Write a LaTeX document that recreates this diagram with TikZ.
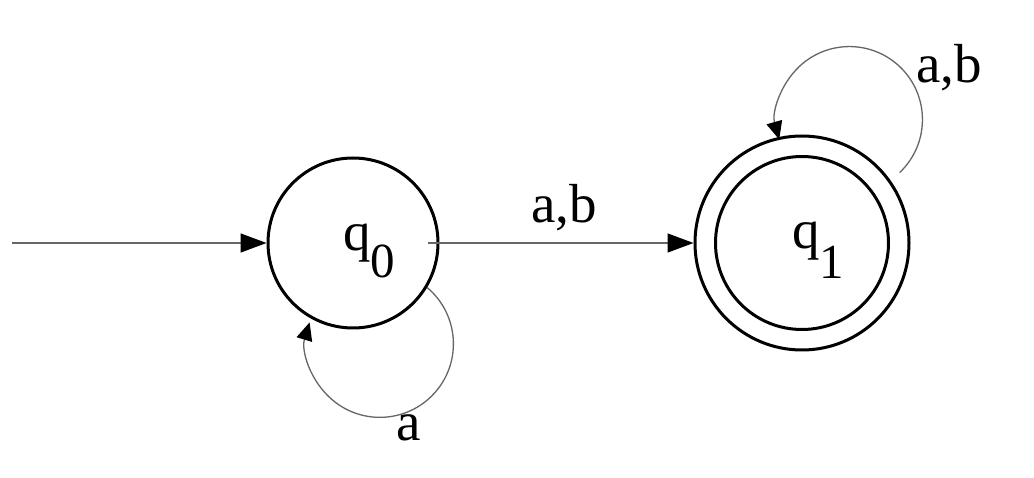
\documentclass[tikz,border=0pt]{standalone}
\usepackage{fontspec}
\setmainfont{Liberation Serif}
\usetikzlibrary{arrows.meta}
\begin{document}
\begin{tikzpicture}[x=1pt,y=1pt,
  state/.style={circle,draw=black,line width=3pt,inner sep=0pt},
  edge/.style={draw=black!60,line width=1.4pt,-{Triangle[length=26pt,width=19pt,color=black]}},
  loopedge/.style={draw=black!60,line width=1.3pt,-{Triangle[length=18pt,width=16pt,color=black]}},
  lbl/.style={inner sep=0pt,anchor=base west,font=\fontsize{55}{55}\selectfont}]
\useasboundingbox (0,0) rectangle (1034,477);
\fill[white] (0,0) rectangle (1034,477);
% states
\node[state,minimum size=170pt] (q0) at (353,234) {};
\node[state,minimum size=214pt] (q1) at (802,234) {};
\node[state,minimum size=173pt] (q1in) at (802,234) {};
\node[lbl] (t0) at (343,226) {q\raisebox{-27pt}{\fontsize{49}{49}\selectfont 0}};
\node[lbl] (t1) at (792,228) {q\raisebox{-30pt}{\fontsize{49}{49}\selectfont 1}};
% initial arrow
\coordinate (init) at (12,234);
\draw[edge] (init) -- (q0.west);
% q0 -> q1
\draw[edge] ([xshift=-12pt]q0.east) -- (q1.west);
\node[lbl] (lab01) at (531,254) {a,b};
% self loop on q0
\draw[loopedge] (q0.-31) arc[start angle=50,end angle=-197,radius=73.5];
\node[lbl] (lab00) at (396,37) {a};
% self loop on q1
\coordinate (l1s) at (899.6,304.4);
\draw[loopedge] (l1s) arc[start angle=-46.6,end angle=195.8,radius=73];
\node[lbl] (lab11) at (916,394) {a,b};
\end{tikzpicture}
\end{document}
